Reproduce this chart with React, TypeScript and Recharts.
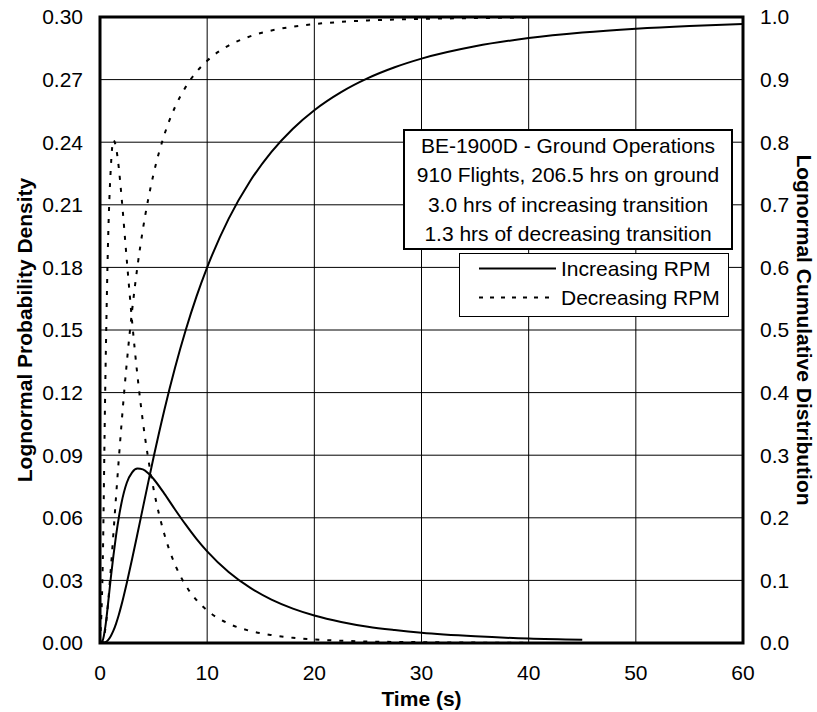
import React from 'react';
import { LineChart, Line, XAxis, YAxis, CartesianGrid, ReferenceArea } from 'recharts';

const timeS = [0, 0.25, 0.5, 0.75, 1, 1.25, 1.5, 1.75, 2, 2.5, 3, 3.5, 4, 4.5, 5, 6, 7, 8, 9, 10, 12, 14, 16, 18, 20, 22.5, 25, 27.5, 30, 35, 40, 45, 50, 55, 60];

const incPdf = [0, 0.0012, 0.0078, 0.0188, 0.0308, 0.0418, 0.0516, 0.06, 0.067, 0.0768, 0.0818, 0.0836, 0.0832, 0.0814, 0.0786, 0.0716, 0.064, 0.0567, 0.0499, 0.0439, 0.034, 0.0265, 0.0208, 0.0165, 0.0132, 0.0101, 0.0078, 0.0062, 0.0049, 0.0032, 0.0021, 0.0015, null, null, null];

const incCdf = [0, 0.0002, 0.0012, 0.0046, 0.0108, 0.0196, 0.031, 0.0448, 0.0605, 0.096, 0.1345, 0.1748, 0.2158, 0.2566, 0.2966, 0.3719, 0.4397, 0.5, 0.5533, 0.6001, 0.6775, 0.7376, 0.7845, 0.8216, 0.8511, 0.88, 0.9023, 0.9197, 0.9335, 0.9532, 0.9663, 0.9752, 0.9814, 0.9858, 0.989];

const decPdf = [0, 0.0365, 0.1256, 0.192, 0.2268, 0.241, 0.2374, 0.2279, 0.2144, 0.1835, 0.1538, 0.1279, 0.1062, 0.0884, 0.0738, 0.0522, 0.0376, 0.0276, 0.0206, 0.0156, 0.0093, 0.0058, 0.0038, 0.0025, 0.0017, 0.0011, 0.0007, 0.0005, 0.0004, 0.0002, 0.0001, null, null, null, null];

const decCdf = [0, 0.0025, 0.0228, 0.0632, 0.1162, 0.1747, 0.2345, 0.2928, 0.3481, 0.4477, 0.5319, 0.6021, 0.6605, 0.709, 0.7494, 0.8117, 0.8561, 0.8884, 0.9122, 0.9301, 0.9543, 0.9691, 0.9784, 0.9846, 0.9887, 0.9922, 0.9945, 0.996, 0.997, 0.9983, 0.999, null, null, null, null];

const xTicks = [0, 10, 20, 30, 40, 50, 60];
const leftTicks = [0, 0.03, 0.06, 0.09, 0.12, 0.15, 0.18, 0.21, 0.24, 0.27, 0.3];
const rightTicks = [0, 0.1, 0.2, 0.3, 0.4, 0.5, 0.6, 0.7, 0.8, 0.9, 1];

const infoLines = [
  'BE-1900D - Ground Operations',
  '910 Flights, 206.5 hrs on ground',
  '3.0 hrs of increasing transition',
  '1.3 hrs of decreasing transition',
];
const seriesNames = ['Increasing RPM', 'Decreasing RPM'];

const rows = timeS.map((t, i) => ({
  t,
  incPdf: incPdf[i],
  incCdf: incCdf[i],
  decPdf: decPdf[i],
  decCdf: decCdf[i],
}));

const FONT = '"Liberation Sans", Arial, sans-serif';
const FS = 21;
const DASH = '4 8';

const tickStyle = { fontSize: FS, fill: '#000', fontFamily: FONT };

const LeftTitle = (props: any) => {
  const vb = props.viewBox || { y: 17, height: 626 };
  const cx = 24;
  const cy = vb.y + vb.height / 2;
  return (
    <text x={cx} y={cy} transform={`rotate(-90 ${cx} ${cy})`} textAnchor="middle" dominantBaseline="central"
      style={{ fontFamily: FONT, fontSize: FS, fontWeight: 'bold', fill: '#000' }}>
      Lognormal Probability Density
    </text>
  );
};

const RightTitle = (props: any) => {
  const vb = props.viewBox || { y: 17, height: 626 };
  const cx = 804;
  const cy = vb.y + vb.height / 2;
  return (
    <text x={cx} y={cy} transform={`rotate(90 ${cx} ${cy})`} textAnchor="middle" dominantBaseline="central"
      style={{ fontFamily: FONT, fontSize: FS, fontWeight: 'bold', fill: '#000' }}>
      Lognormal Cumulative Distribution
    </text>
  );
};

const BottomTitle = (props: any) => {
  const vb = props.viewBox || { x: 100, width: 643 };
  const cx = vb.x + vb.width / 2;
  return (
    <text x={cx} y={706} textAnchor="middle"
      style={{ fontFamily: FONT, fontSize: FS, fontWeight: 'bold', fill: '#000' }}>
      Time (s)
    </text>
  );
};

export default function App() {
  return (
    <div style={{ position: 'absolute', left: 0, top: 0, width: 817, height: 712, background: '#fff', fontFamily: FONT }}>
      <LineChart width={817} height={712} data={rows} margin={{ top: 17, right: 0, bottom: 0, left: 0 }}>
        <CartesianGrid yAxisId="left" stroke="#000" strokeWidth={1} />
        <XAxis dataKey="t" type="number" domain={[0, 60]} ticks={xTicks} height={69}
          tickLine={false} axisLine={false} tickSize={0} tickMargin={22} tick={tickStyle}
          interval={0} allowDataOverflow label={<BottomTitle />} />
        <YAxis yAxisId="left" domain={[0, 0.3]} ticks={leftTicks} width={100}
          tickFormatter={(v: number) => v.toFixed(2)} tickLine={false} axisLine={false}
          tickSize={0} tickMargin={17} tick={tickStyle} interval={0} allowDataOverflow label={<LeftTitle />} />
        <YAxis yAxisId="right" orientation="right" domain={[0, 1]} ticks={rightTicks} width={74}
          tickFormatter={(v: number) => v.toFixed(1)} tickLine={false} axisLine={false}
          tickSize={0} tickMargin={17} tick={{ ...tickStyle, textAnchor: 'start' }} interval={0} allowDataOverflow label={<RightTitle />} />
        <Line yAxisId="left" dataKey="incPdf" stroke="#000" strokeWidth={2} dot={false} type="monotone" isAnimationActive={false} />
        <Line yAxisId="left" dataKey="decPdf" stroke="#000" strokeWidth={2} strokeDasharray={DASH} dot={false} type="monotone" isAnimationActive={false} />
        <Line yAxisId="right" dataKey="incCdf" stroke="#000" strokeWidth={2} dot={false} type="monotone" isAnimationActive={false} />
        <Line yAxisId="right" dataKey="decCdf" stroke="#000" strokeWidth={2} strokeDasharray={DASH} dot={false} type="monotone" isAnimationActive={false} />
        <ReferenceArea yAxisId="left" x1={0} x2={60} y1={0} y2={0.3} fill="none" stroke="#000" strokeWidth={3} ifOverflow="visible" />
      </LineChart>
      <div style={{ position: 'absolute', left: 403, top: 129, width: 330, height: 121, boxSizing: 'border-box', border: '2px solid #000', background: '#fff', textAlign: 'center', fontSize: FS, lineHeight: '29.3px', color: '#000', whiteSpace: 'nowrap' }}>
        {infoLines.map((l) => (<div key={l}>{l}</div>))}
      </div>
      <div style={{ position: 'absolute', left: 459, top: 253, width: 270, height: 64, boxSizing: 'border-box', border: '1px solid #000', background: '#fff', fontSize: FS, color: '#000', whiteSpace: 'nowrap' }}>
        {seriesNames.map((n, i) => (
          <div key={n} style={{ position: 'absolute', left: 0, top: i === 0 ? 0 : 29, height: 29, lineHeight: '29px', width: 268 }}>
            <svg width={80} height={29} style={{ position: 'absolute', left: 19, top: 0 }}>
              <line x1={0} y1={14.5} x2={77} y2={14.5} stroke="#000" strokeWidth={2} strokeDasharray={i === 0 ? undefined : '4 7'} />
            </svg>
            <span style={{ position: 'absolute', left: 101, top: 0 }}>{n}</span>
          </div>
        ))}
      </div>
    </div>
  );
}
